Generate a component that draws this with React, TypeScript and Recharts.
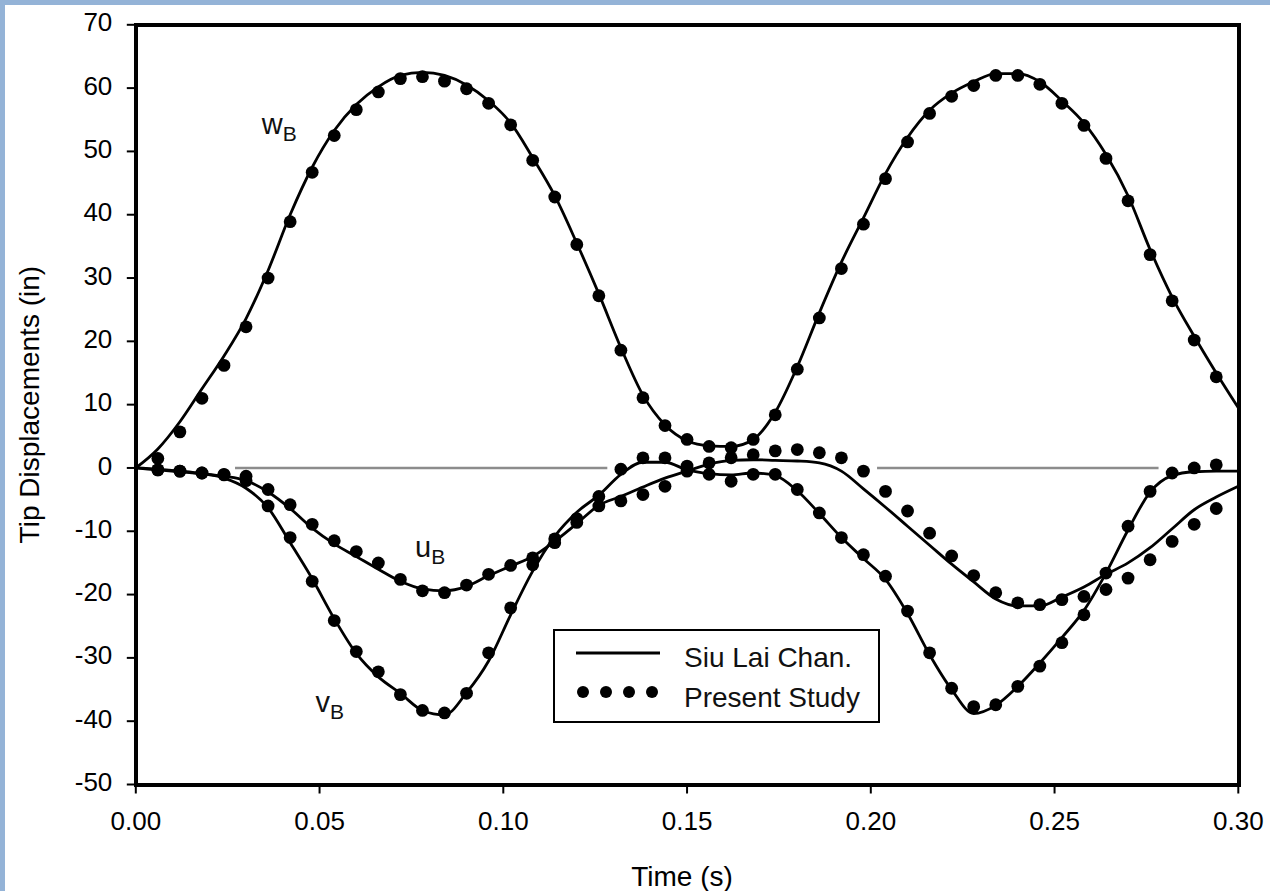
import React from 'react';
import {
  ComposedChart,
  Line,
  Scatter,
  XAxis,
  YAxis,
  ReferenceLine,
  ReferenceDot,
} from 'recharts';

const FONT = '"Liberation Sans", Arial, Helvetica, sans-serif';

// Time stations (s)
const timeGrid = [
  0, 0.006, 0.012, 0.018, 0.024, 0.03, 0.036, 0.042, 0.048, 0.054, 0.06, 0.066, 0.072,
  0.078, 0.084, 0.09, 0.096, 0.102, 0.108, 0.114, 0.12, 0.126, 0.132, 0.138, 0.144, 0.15,
  0.156, 0.162, 0.168, 0.174, 0.18, 0.186, 0.192, 0.198, 0.204, 0.21, 0.216, 0.222, 0.228,
  0.234, 0.24, 0.246, 0.252, 0.258, 0.264, 0.27, 0.276, 0.282, 0.288, 0.294, 0.3,
];

// Siu Lai Chan. reference solution (in), one value per time station
const wRef = [
  0, 3.0, 7.3, 12.5, 17.7, 23.6, 31.2, 40.0, 47.5, 53.3, 57.4, 60.2, 62.0, 62.5, 62.0, 60.5,
  58.0, 54.5, 49.0, 43.0, 35.5, 27.5, 19.0, 11.5, 6.8, 4.3, 3.5, 3.4, 4.5, 8.8, 16.0, 24.5,
  32.5, 39.5, 46.5, 52.2, 56.5, 59.2, 61.0, 62.3, 62.3, 61.0, 58.0, 54.5, 49.5, 43.0, 34.5,
  27.0, 20.8, 15.0, 9.5,
];
const uRef = [
  0, -0.3, -0.6, -0.9, -1.3, -2.0, -3.8, -6.4, -9.5, -12.0, -14.0, -16.0, -17.9, -19.1, -19.4,
  -18.7, -17.0, -15.5, -14.0, -11.6, -8.8, -5.9, -4.5, -3.0, -1.6, -0.5, 0.6, 1.2, 1.3, 1.2,
  1.1, 0.8, -0.5, -3.3, -6.2, -9.2, -12.2, -15.2, -18.0, -20.7, -21.8, -21.8, -20.4, -18.8,
  -16.8, -15.0, -12.6, -9.6, -6.6, -4.6, -2.9,
];
const vRef = [
  0, -0.2, -0.5, -0.9, -1.6, -3.2, -6.3, -11.8, -17.5, -23.8, -29.3, -33.0, -35.6, -38.3,
  -39.0, -35.5, -30.5, -23.2, -16.3, -10.8, -7.0, -4.3, -1.0, 0.9, 0.9, -0.3, -0.9, -1.1,
  -0.8, -1.2, -3.6, -7.2, -11.0, -14.3, -17.6, -23.0, -29.5, -35.0, -38.8, -37.5, -34.5,
  -30.8, -26.8, -22.5, -16.6, -9.8, -3.8, -1.2, -0.6, -0.5, -0.5,
];

// Present study (in), stations 0.006 ... 0.294
const studyTimes = timeGrid.slice(1, 50);
const wStudy = [
  1.5, 5.7, 11.0, 16.2, 22.3, 30.0, 38.9, 46.7, 52.5, 56.6, 59.4, 61.5, 61.8, 61.1, 59.9,
  57.6, 54.2, 48.6, 42.8, 35.3, 27.2, 18.6, 11.1, 6.7, 4.5, 3.4, 3.2, 4.5, 8.4, 15.6, 23.7,
  31.5, 38.5, 45.7, 51.5, 56.0, 58.7, 60.4, 62.0, 62.0, 60.6, 57.6, 54.1, 48.9, 42.2, 33.7,
  26.4, 20.2, 14.4,
];
const uStudy = [
  -0.3, -0.5, -0.8, -1.0, -1.3, -3.4, -5.8, -8.9, -11.5, -13.2, -15.0, -17.6, -19.4, -19.7,
  -18.5, -16.8, -15.4, -14.2, -11.8, -8.6, -6.0, -5.2, -4.2, -2.9, -0.5, 0.8, 1.6, 2.1, 2.7,
  2.9, 2.4, 1.6, -0.5, -3.7, -6.8, -10.3, -13.9, -17.0, -19.7, -21.3, -21.6, -20.8, -20.3,
  -19.2, -17.4, -14.5, -11.6, -8.9, -6.4,
];
const vStudy = [
  -0.3, -0.5, -0.8, -1.1, -2.0, -6.0, -11.0, -17.9, -24.1, -29.0, -32.2, -35.8, -38.3, -38.7,
  -35.6, -29.2, -22.1, -15.3, -11.2, -8.0, -4.5, -0.2, 1.6, 1.6, 0.3, -1.0, -2.1, -1.0, -1.0,
  -3.4, -7.1, -11.0, -13.7, -17.1, -22.6, -29.2, -34.8, -37.7, -37.4, -34.5, -31.3, -27.6,
  -23.2, -16.6, -9.2, -3.7, -0.8, 0.0, 0.5,
];

const xTicks = [0, 0.05, 0.1, 0.15, 0.2, 0.25, 0.3];
const yTicks = [-50, -40, -30, -20, -10, 0, 10, 20, 30, 40, 50, 60, 70];

// Zero reference segments (time ranges)
const zeroSegments: [number, number][] = [
  [0.027, 0.1283],
  [0.2017, 0.2783],
];

// Curve name anchors: [name, time, displacement]
const curveNames: [string, number, number][] = [
  ['w', 0.0343, 52.8],
  ['u', 0.076, -14.1],
  ['v', 0.0489, -38.6],
];

const pairs = (ts: number[], vs: number[]) => ts.map((t, i) => ({ t, v: vs[i] }));

const wRefData = pairs(timeGrid, wRef);
const uRefData = pairs(timeGrid, uRef);
const vRefData = pairs(timeGrid, vRef);
const wStudyData = pairs(studyTimes, wStudy);
const uStudyData = pairs(studyTimes, uStudy);
const vStudyData = pairs(studyTimes, vStudy);

// Chart layout
const CHART_W = 1270;
const CHART_H = 891;
const MARGIN = { top: 24.8, right: 31.7, bottom: 46.5, left: 75.8 };
const Y_AXIS_W = 60;
const X_AXIS_H = 60;
const FRAME_W = 4.5;
const plotLeft = MARGIN.left + Y_AXIS_W;
const plotTop = MARGIN.top;
const plotWidth = CHART_W - MARGIN.right - plotLeft;
const plotHeight = CHART_H - MARGIN.bottom - X_AXIS_H - plotTop;

const DOT_R = 6.4;
const StudyDot = (p: any) =>
  p.cx == null || p.cy == null ? null : <circle cx={p.cx} cy={p.cy} r={DOT_R} fill="#000" />;

const XTick = (p: any) => (
  <text x={p.x} y={p.y + 18} textAnchor="middle" fontSize={26} fontFamily={FONT} fill="#000">
    {Number(p.payload.value).toFixed(2)}
  </text>
);

const YTick = (p: any) => (
  <text x={p.x} y={p.y + 6.6} textAnchor="end" fontSize={26} fontFamily={FONT} fill="#000">
    {p.payload.value}
  </text>
);

const XTitle = (p: any) => {
  const vb = p.viewBox || {};
  return (
    <text
      x={vb.x + vb.width / 2 - 5}
      y={vb.y + 101}
      textAnchor="middle"
      fontSize={28}
      fontFamily={FONT}
      fill="#000"
    >
      Time (s)
    </text>
  );
};

const YTitle = (p: any) => {
  const vb = p.viewBox || {};
  const cx = vb.x - 36.5;
  const cy = vb.y + vb.height / 2;
  return (
    <text
      x={cx}
      y={cy}
      transform={`rotate(-90 ${cx} ${cy})`}
      textAnchor="middle"
      fontSize={28}
      fontFamily={FONT}
      fill="#000"
    >
      Tip Displacements (in)
    </text>
  );
};

const CurveName = (p: any) => {
  const vb = p.viewBox || {};
  return (
    <text x={vb.x} y={vb.y} fontSize={29} fontFamily={FONT} fill="#111">
      {p.name}
      <tspan fontSize={21} dy={7}>
        B
      </tspan>
    </text>
  );
};

const LegendBox = () => (
  <svg
    width={328}
    height={95}
    style={{ position: 'absolute', left: 553, top: 629, overflow: 'visible' }}
  >
    <rect x={1} y={1} width={325} height={92} fill="#fff" stroke="#000" strokeWidth={2} />
    <line x1={23} y1={24} x2={107} y2={24} stroke="#000" strokeWidth={3} />
    {[30, 53, 76, 99].map((cx) => (
      <circle key={cx} cx={cx} cy={63} r={6} fill="#000" />
    ))}
    <text x={131} y={38} fontSize={28} fontFamily={FONT} fill="#111">
      Siu Lai Chan.
    </text>
    <text x={131} y={77.5} fontSize={28} fontFamily={FONT} fill="#111">
      Present Study
    </text>
  </svg>
);

// Heavy border around the plotting region
const PlotFrame = () => (
  <div
    style={{
      position: 'absolute',
      left: plotLeft - FRAME_W / 2,
      top: plotTop - FRAME_W / 2,
      width: plotWidth + FRAME_W,
      height: plotHeight + FRAME_W,
      border: `${FRAME_W}px solid #000`,
      boxSizing: 'border-box',
      pointerEvents: 'none',
    }}
  />
);

export default function App() {
  return (
    <div
      style={{
        position: 'absolute',
        left: 0,
        top: 0,
        width: CHART_W,
        height: CHART_H,
        background: '#fff',
        overflow: 'hidden',
      }}
    >
      <ComposedChart width={CHART_W} height={CHART_H} margin={MARGIN}>
        <XAxis
          type="number"
          dataKey="t"
          domain={[0, 0.3]}
          ticks={xTicks}
          axisLine={false}
          tickLine={{ stroke: '#000', strokeWidth: 2 }}
          tickSize={9}
          tickMargin={18}
          height={X_AXIS_H}
          tick={<XTick />}
          interval={0}
          label={(p: any) => <XTitle {...p} />}
        />
        <YAxis
          type="number"
          domain={[-50, 70]}
          ticks={yTicks}
          axisLine={false}
          tickLine={{ stroke: '#000', strokeWidth: 2 }}
          tickSize={9}
          tickMargin={14.5}
          width={Y_AXIS_W}
          tick={<YTick />}
          interval={0}
          label={(p: any) => <YTitle {...p} />}
        />

        {zeroSegments.map(([a, b]) => (
          <ReferenceLine
            key={a}
            segment={[
              { x: a, y: 0 },
              { x: b, y: 0 },
            ]}
            stroke="#8c8c8c"
            strokeWidth={2.5}
          />
        ))}

        <Line data={wRefData} dataKey="v" type="monotone" stroke="#000" strokeWidth={2.8} dot={false} activeDot={false} isAnimationActive={false} />
        <Line data={uRefData} dataKey="v" type="monotone" stroke="#000" strokeWidth={2.8} dot={false} activeDot={false} isAnimationActive={false} />
        <Line data={vRefData} dataKey="v" type="monotone" stroke="#000" strokeWidth={2.8} dot={false} activeDot={false} isAnimationActive={false} />

        <Scatter data={wStudyData} dataKey="v" shape={StudyDot} isAnimationActive={false} />
        <Scatter data={uStudyData} dataKey="v" shape={StudyDot} isAnimationActive={false} />
        <Scatter data={vStudyData} dataKey="v" shape={StudyDot} isAnimationActive={false} />

        {curveNames.map(([name, t, v]) => (
          <ReferenceDot
            key={name}
            x={t}
            y={v}
            r={0}
            stroke="none"
            fill="none"
            label={(p: any) => <CurveName {...p} name={name} />}
          />
        ))}
      </ComposedChart>
      <PlotFrame />
      <LegendBox />
      <div style={{ position: 'absolute', left: 0, top: 0, width: 5, height: CHART_H, background: '#94b3d7' }} />
      <div style={{ position: 'absolute', left: 0, top: 0, width: CHART_W, height: 5, background: '#94b3d7' }} />
    </div>
  );
}
